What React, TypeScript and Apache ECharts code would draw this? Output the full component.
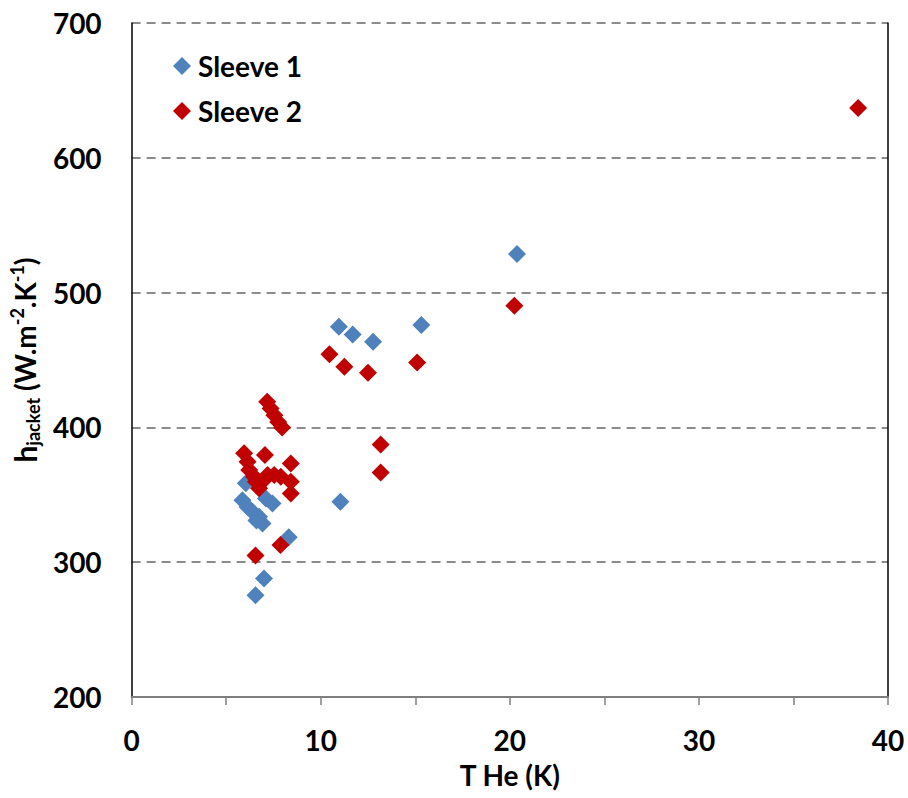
import React, { useEffect, useRef } from "react";
import * as echarts from "echarts";

const sleeve1: [number, number][] = [
  [20.38, 528.6], [15.32, 476], [10.96, 474.7], [11.69, 469], [12.77, 463.6],
  [11.04, 344.8], [8.31, 318.5], [7.0, 288], [6.55, 275.5],
  [6.04, 358.6], [5.86, 346], [7.1, 347.2], [7.45, 343.6], [6.13, 341],
  [6.39, 337.5], [6.74, 333.7], [6.92, 328.8], [6.6, 331],
];

const sleeve2: [number, number][] = [
  [38.42, 637], [20.24, 490.3], [10.46, 454.2], [11.25, 445], [12.5, 440.6],
  [15.1, 448.2], [13.17, 387.4], [13.17, 366.6],
  [7.17, 419], [7.35, 414], [7.55, 409], [7.75, 404], [7.96, 400],
  [5.95, 380.8], [7.05, 379.5], [8.42, 373.3], [6.13, 374.6], [6.22, 368.4],
  [6.48, 363.4], [6.74, 354.8], [7.19, 364.7], [7.54, 364.7], [7.89, 363.4],
  [8.42, 359.7], [8.42, 351], [6.57, 359.7], [7.0, 361],
  [7.87, 312.8], [6.55, 305],
];

const seriesNames = ["Sleeve 1", "Sleeve 2"];
const xTicks = [0, 10, 20, 30, 40];
const yTicks = [200, 300, 400, 500, 600, 700];

const FONT = "Lato";
const FS = 28;

export default function App() {
  const ref = useRef<HTMLDivElement>(null);
  useEffect(() => {
    if (!ref.current) return;
    const chart = echarts.init(ref.current, null, { renderer: "svg" });
    chart.setOption({
      animation: false,
      backgroundColor: "#ffffff",
      textStyle: { fontFamily: FONT },
      grid: { left: 131, right: 20, top: 23, bottom: 101, containLabel: false },
      legend: {
        orient: "vertical",
        left: 168,
        top: 47,
        itemWidth: 18,
        itemHeight: 18,
        itemGap: 17,
        icon: "diamond",
        data: seriesNames,
        textStyle: {
          fontFamily: FONT,
          fontWeight: "bold",
          fontSize: FS,
          color: "#000",
          padding: [0, 0, 0, 2],
        },
      },
      xAxis: {
        type: "value",
        min: 0,
        max: 40,
        interval: 5,
        name: "T He (K)",
        nameLocation: "middle",
        nameGap: 64,
        nameTextStyle: { fontFamily: FONT, fontWeight: "bold", fontSize: FS, color: "#000" },
        axisLine: { show: true, lineStyle: { color: "#7f7f7f", width: 2 } },
        axisTick: { show: true, inside: false, length: 8, lineStyle: { color: "#7f7f7f", width: 1.5 } },
        axisLabel: {
          margin: 29,
          fontFamily: FONT,
          fontWeight: "bold",
          fontSize: FS,
          color: "#000",
          formatter: (v: number) => (xTicks.includes(v) ? String(v) : ""),
        },
        splitLine: { show: false },
      },
      yAxis: [
        {
          type: "value",
          min: 200,
          max: 700,
          interval: 100,
          name: "{h|h}{sub|jacket}{b| (W.m}{sup|-2}{b|.K}{sup|-1}{b|)}",
          nameLocation: "middle",
          nameGap: 82,
          nameRotate: 90,
          nameTextStyle: {
            fontFamily: FONT,
            fontWeight: "bold",
            fontSize: FS,
            color: "#000",
            rich: {
              h: { fontFamily: FONT, fontWeight: "bold", fontSize: 30, lineHeight: 34, color: "#000" },
              b: { fontFamily: FONT, fontWeight: "bold", fontSize: FS, lineHeight: 34, color: "#000" },
              sub: { fontFamily: FONT, fontWeight: "bold", fontSize: 18, lineHeight: 18, verticalAlign: "bottom", color: "#000" },
              sup: { fontFamily: FONT, fontWeight: "bold", fontSize: 18, lineHeight: 18, verticalAlign: "top", color: "#000" },
            },
          },
          axisLine: { show: true, lineStyle: { color: "#000000", width: 1.5 } },
          axisTick: { show: false },
          axisLabel: {
            margin: 30,
            fontFamily: FONT,
            fontWeight: "bold",
            fontSize: FS,
            color: "#000",
            formatter: (v: number) => (yTicks.includes(v) ? String(v) : ""),
          },
          splitLine: {
            show: true,
            showMinLine: false,
            lineStyle: { color: "#8c8c8c", width: 2, type: [9, 6] },
          },
        },
        {
          type: "value",
          position: "right",
          min: 200,
          max: 700,
          interval: 100,
          axisLine: { show: true, onZero: false, lineStyle: { color: "#000000", width: 1.5 } },
          axisTick: { show: false },
          axisLabel: { show: false },
          splitLine: { show: false },
        },
      ],
      series: [
        {
          name: seriesNames[0],
          type: "scatter",
          data: sleeve1,
          symbol: "diamond",
          symbolSize: 18,
          itemStyle: { color: "#4F81BD", opacity: 1 },
        },
        {
          name: seriesNames[1],
          type: "scatter",
          data: sleeve2,
          symbol: "diamond",
          symbolSize: 18,
          itemStyle: { color: "#C00000", opacity: 1 },
        },
      ],
    });
    return () => chart.dispose();
  }, []);
  return (
    <div
      ref={ref}
      style={{ position: "fixed", left: 0, top: 0, width: 908, height: 798 }}
    />
  );
}
